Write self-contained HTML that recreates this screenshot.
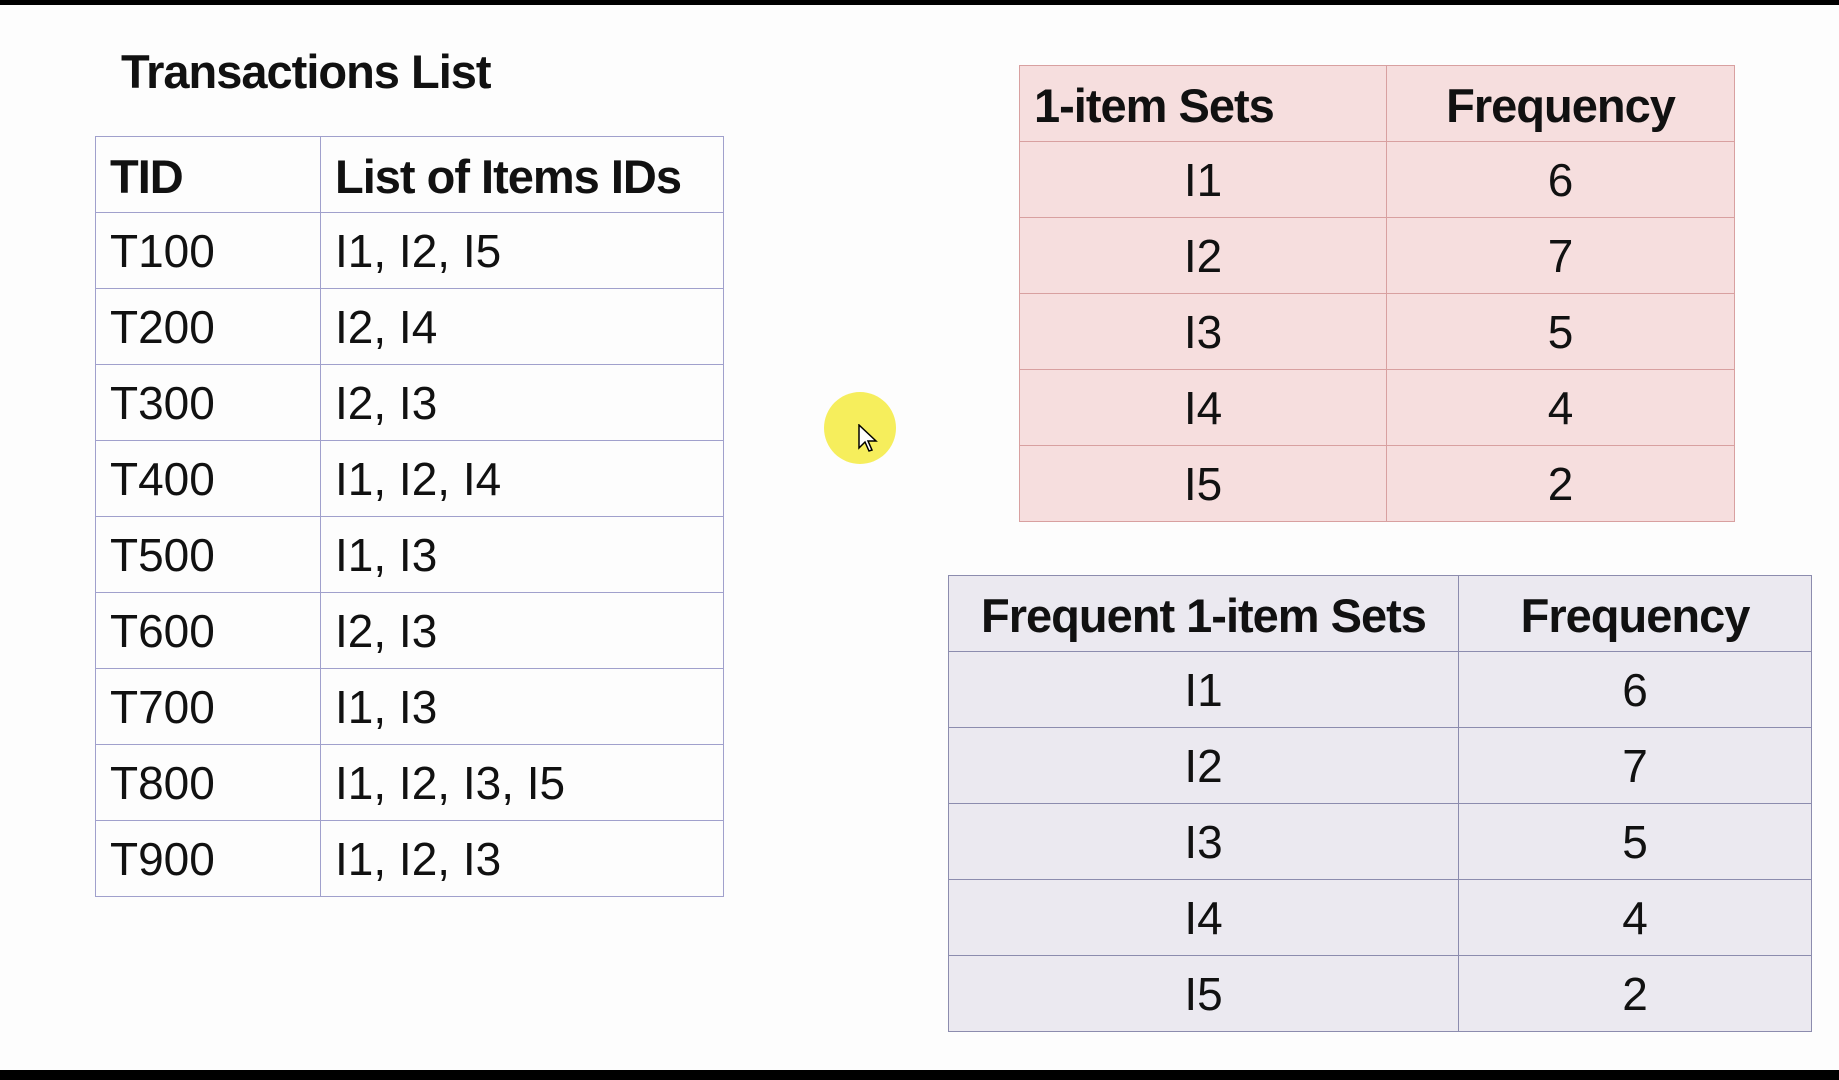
<!DOCTYPE html>
<html><head><style>
body{margin:0;width:1839px;height:1080px;background:#fdfdfd;position:relative;overflow:hidden;font-family:"Liberation Sans",sans-serif;color:#111}
.bar{position:absolute;left:0;width:1839px;background:#000}
table{position:absolute;border-collapse:collapse;table-layout:fixed}
td{height:75px;padding:0;font-size:46px;vertical-align:middle;line-height:1}
th{height:71px;padding:0;padding-top:4px;font-size:47px;font-weight:bold;letter-spacing:-1px;vertical-align:middle;white-space:nowrap}
#t0 td,#t0 th{border:1.5px solid #a0a0cc;text-align:left;padding-left:14px}
#t1 td,#t1 th{border:1.5px solid #d8a0a0;background:#f6dede;text-align:center}
#t2 td,#t2 th{border:1.5px solid #8c8cae;background:#ebe9f0;text-align:center}
</style></head><body>
<div class="bar" style="top:0;height:5px"></div>
<div class="bar" style="top:1070px;height:10px"></div>
<div style="position:absolute;left:121px;top:44px;font-size:47px;font-weight:bold;letter-spacing:-1px">Transactions List</div>
<table id="t0" style="left:95px;top:136px;width:628px">
<col style="width:225px"><col style="width:403px">
<tr><th>TID</th><th>List of Items IDs</th></tr>
<tr><td>T100</td><td>I1, I2, I5</td></tr>
<tr><td>T200</td><td>I2, I4</td></tr>
<tr><td>T300</td><td>I2, I3</td></tr>
<tr><td>T400</td><td>I1, I2, I4</td></tr>
<tr><td>T500</td><td>I1, I3</td></tr>
<tr><td>T600</td><td>I2, I3</td></tr>
<tr><td>T700</td><td>I1, I3</td></tr>
<tr><td>T800</td><td>I1, I2, I3, I5</td></tr>
<tr><td>T900</td><td>I1, I2, I3</td></tr>
</table>
<table id="t1" style="left:1019px;top:65px;width:715px">
<col style="width:367px"><col style="width:348px">
<tr><th style="text-align:left;padding-left:14px">1-item Sets</th><th>Frequency</th></tr>
<tr><td>I1</td><td>6</td></tr>
<tr><td>I2</td><td>7</td></tr>
<tr><td>I3</td><td>5</td></tr>
<tr><td>I4</td><td>4</td></tr>
<tr><td>I5</td><td>2</td></tr>
</table>
<table id="t2" style="left:948px;top:575px;width:863px">
<col style="width:510px"><col style="width:353px">
<tr><th>Frequent 1-item Sets</th><th>Frequency</th></tr>
<tr><td>I1</td><td>6</td></tr>
<tr><td>I2</td><td>7</td></tr>
<tr><td>I3</td><td>5</td></tr>
<tr><td>I4</td><td>4</td></tr>
<tr><td>I5</td><td>2</td></tr>
</table>
<div style="position:absolute;left:824px;top:392px;width:72px;height:72px;border-radius:50%;background:#f6ee5c"></div>
<svg style="position:absolute;left:858px;top:424px" width="20" height="30"><path d="M1 1 L1 24 L7 18 L11 27 L14 26 L10 17 L18 17 Z" fill="#fff" stroke="#000" stroke-width="1.5"/></svg>
</body></html>
